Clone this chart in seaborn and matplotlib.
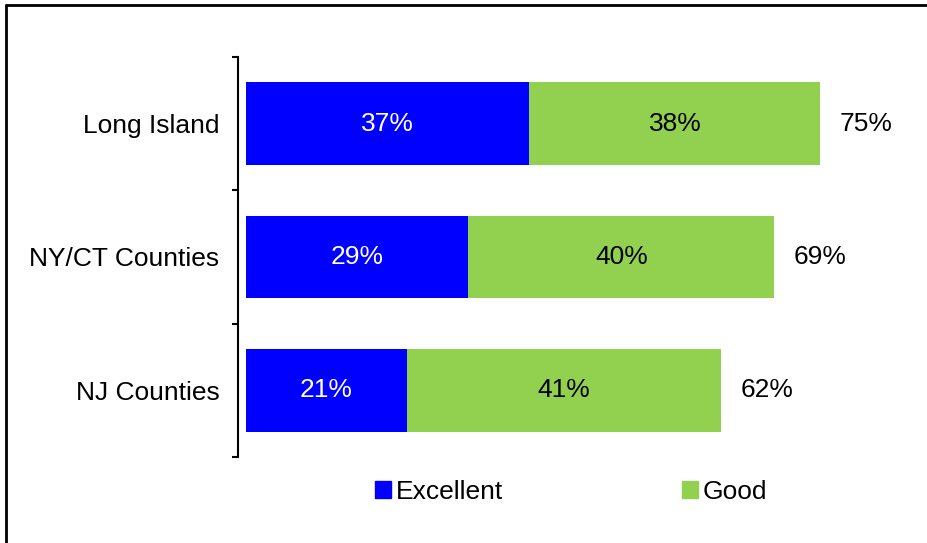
import numpy as np
import pandas as pd
import matplotlib.pyplot as plt
from matplotlib.lines import Line2D
from matplotlib.patches import Patch
import seaborn as sns

# data
regions = ["Long Island", "NY/CT Counties", "NJ Counties"]
excellent = [37, 29, 21]
good = [38, 40, 41]
totals = [75, 69, 62]

blue = "#0000FF"
green = "#92D050"

sns.set_style("white")
plt.rcParams["font.family"] = ["Liberation Sans", "DejaVu Sans"]
plt.rcParams["text.color"] = "black"
plt.rcParams["ytick.color"] = "black"

df = pd.DataFrame({"region": regions, "excellent": excellent, "good": good, "total": totals})

fig = plt.figure(figsize=(9.28, 5.43), dpi=100)
ax = fig.add_axes([246 / 928, 86 / 543, 651 / 928, 400 / 543])

# stacked: total (green) first, then excellent (blue) on top
sns.barplot(data=df, x="total", y="region", color=green, width=0.62,
            saturation=1, ax=ax, orient="h", linewidth=0, edgecolor="none")
sns.barplot(data=df, x="excellent", y="region", color=blue, width=0.62,
            saturation=1, ax=ax, orient="h", linewidth=0, edgecolor="none")

ax.set_xlim(0, 85)
ax.set_ylim(2.5, -0.5)
ax.set_xlabel("")
ax.set_ylabel("")
ax.set_xticks([])

fs = 19
for i in range(len(regions)):
    ax.text(excellent[i] / 2, i, f"{excellent[i]}%", color="white",
            ha="center", va="center", fontsize=fs)
    ax.text(excellent[i] + good[i] / 2, i, f"{good[i]}%", color="black",
            ha="center", va="center", fontsize=fs)
    ax.text(totals[i] + 6, i, f"{totals[i]}%", color="black",
            ha="center", va="center", fontsize=fs)

for s in ["top", "right", "bottom"]:
    ax.spines[s].set_visible(False)
ax.spines["left"].set_position(("outward", 6))
ax.spines["left"].set_linewidth(1.5)
ax.spines["left"].set_color("black")

ax.set_yticks(range(len(regions)))
ax.set_yticklabels(regions, fontsize=fs, color="black")
ax.tick_params(axis="y", which="major", length=0, pad=13)
ax.set_yticks([-0.5, 0.5, 1.5, 2.5], minor=True)
ax.tick_params(axis="y", which="minor", length=4.5, width=1.5, color="black", left=True)

handles = [Patch(color=blue, label="Excellent"), Patch(color=green, label="Good")]
fig.legend(handles=handles, loc="center", bbox_to_anchor=(571 / 928, 51 / 543),
           ncol=2, frameon=False, fontsize=fs, handlelength=0.62, handleheight=0.62,
           handletextpad=0.15, columnspacing=6.8, borderpad=0)

# outer frame (top and left edges)
fig.add_artist(Line2D([0.0065, 1], [1 - 5 / 543, 1 - 5 / 543], color="black", lw=2))
fig.add_artist(Line2D([0.0065, 0.0065], [0, 1 - 5 / 543], color="black", lw=2))

fig.savefig("out.png", dpi=100)
